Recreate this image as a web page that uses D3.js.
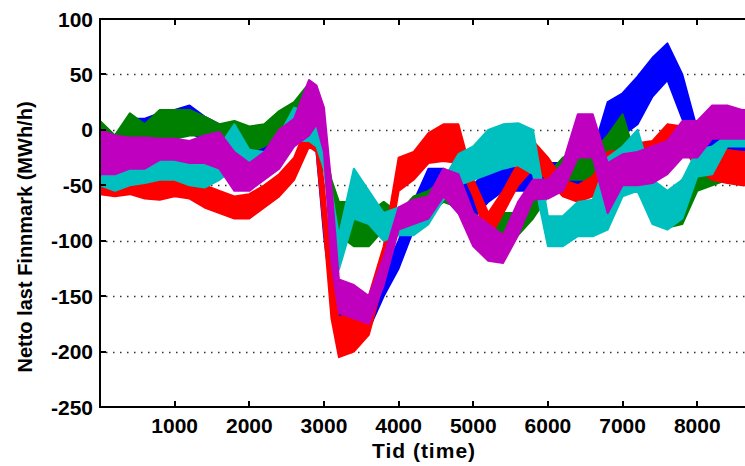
<!DOCTYPE html>
<html>
<head>
<meta charset="utf-8">
<script src="https://cdn.jsdelivr.net/npm/d3@7"></script>
<style>
  html, body { margin: 0; padding: 0; background: #fff; }
  svg { display: block; }
</style>
</head>
<body>
<div id="chart"></div>
<script>
const hours = [0, 200, 400, 600, 800, 1000, 1200, 1400, 1600, 1800, 2000, 2200, 2400, 2600, 2800, 2900,
  3000, 3100, 3200, 3400, 3600, 3800, 4000, 4200, 4400, 4600, 4800, 5000, 5200, 5400, 5600, 5800,
  6000, 6200, 6400, 6600, 6800, 7000, 7200, 7400, 7600, 7800, 8000, 8200, 8400, 8600, 8800];

// low / high envelope of each noisy series (MWh/h)
const blueLow  = [-25, -30, -15, -10, -10, -5, -2, -10, -15, -20, -25, -20, -10, -5, 0, -20,
  -95, -150, -170, -175, -180, -150, -125, -90, -55, -60, -75, -80, -65, -55, -55, -55,
  -50, -55, -50, -45, -10, -5, 5, 30, 45, 10, -20, -30, -30, -25, -25];
const blueHigh = [0, -5, 10, 10, 15, 18, 22, 12, 5, 0, -5, 0, 8, 15, 25, 5,
  -60, -120, -140, -145, -150, -130, -100, -65, -35, -35, -45, -50, -35, -30, -35, -35,
  -30, -30, -25, -20, 25, 33, 48, 65, 78, 50, 0, -5, -10, -5, -5];

const greenLow  = [-10, -28, -5, -10, -10, -8, -5, -5, -15, -15, -20, -15, -5, 0, 10, -5,
  -35, -75, -95, -105, -105, -90, -95, -85, -75, -65, -70, -100, -115, -100, -95, -80,
  -60, -45, -45, -45, -30, -25, -55, -80, -88, -85, -55, -50, -45, -40, -40];
const greenHigh = [8, -5, 15, 5, 18, 18, 18, 12, 5, 8, 3, 5, 17, 25, 42, 20,
  -10, -45, -65, -65, -75, -65, -75, -60, -55, -45, -50, -75, -85, -75, -75, -60,
  -40, -25, -18, -20, -5, 14, -30, -50, -60, -45, -30, -30, -28, -25, -25];

const redLow  = [-58, -60, -58, -62, -63, -60, -62, -70, -75, -80, -80, -70, -60, -45, -15, -20,
  -90, -170, -205, -200, -185, -135, -55, -45, -30, -28, -30, -60, -100, -75, -50, -35,
  -45, -60, -65, -60, -45, -45, -35, -30, -10, -15, -35, -45, -48, -50, -50];
const redHigh = [-42, -50, -48, -48, -42, -40, -45, -50, -55, -60, -58, -50, -40, -25, 8, 5,
  -50, -130, -170, -160, -150, -105, -25, -20, -3, 5, 5, -45, -75, -55, -30, -10,
  -25, -45, -50, -42, -20, -18, -12, -10, 5, 3, -15, -20, -18, -20, -20];

const cyanLow  = [-50, -55, -50, -48, -45, -45, -50, -52, -45, -35, -38, -35, -30, -10, -10, -15,
  -35, -90, -126, -80, -85, -100, -95, -95, -85, -63, -50, -45, -40, -35, -32, -40,
  -105, -105, -96, -96, -90, -60, -55, -85, -90, -80, -42, -40, -15, -15, -15];
const cyanHigh = [-25, -35, -28, -28, -25, -25, -30, -30, -15, 5, -18, -20, -5, 20, 15, 10,
  -10, -55, -95, -35, -55, -75, -70, -70, -60, -45, -22, -15, 0, 5, 6, 0,
  -78, -78, -65, -63, -25, -15, 0, -45, -55, -45, -18, -15, -5, -5, -5];

const magLow  = [-40, -40, -35, -35, -27, -27, -30, -30, -35, -55, -55, -45, -35, -15, -5, 5,
  -20, -120, -165, -170, -175, -140, -90, -85, -80, -60, -75, -105, -118, -120, -95, -63,
  -62, -55, -25, -25, -75, -50, -50, -48, -40, -25, -25, -8, -8, -8, -8];
const magHigh = [0, -5, -7, -7, -8, -8, -10, -5, -2, -20, -30, -20, 0, 10, 45, 40,
  20, -50, -135, -140, -150, -115, -70, -63, -60, -35, -40, -75, -85, -95, -65, -45,
  -45, -30, 14, 14, -30, -22, -20, -15, -10, 8, 8, 22, 22, 18, 18];

const xTicks = [1000, 2000, 3000, 4000, 5000, 6000, 7000, 8000];
const yTicks = [-250, -200, -150, -100, -50, 0, 50, 100];
const gridValues = [-200, -150, -100, -50, 0, 50];

const series = [
  { color: "#0000ff", low: blueLow, high: blueHigh },
  { color: "#008000", low: greenLow, high: greenHigh },
  { color: "#ff0000", low: redLow, high: redHigh },
  { color: "#00bfbf", low: cyanLow, high: cyanHigh },
  { color: "#bf00bf", low: magLow, high: magHigh }
];

const W = 745, H = 466;
const mLeft = 100, mTop = 19, mBottom = 407, mRight = 754; // right edge of the axes falls outside the picture

const x = d3.scaleLinear().domain([0, 8760]).range([mLeft, mRight]);
const y = d3.scaleLinear().domain([-250, 100]).range([mBottom, mTop]);

const svg = d3.select("#chart").append("svg")
  .attr("width", W).attr("height", H)
  .style("font-family", "'Liberation Sans', Arial, sans-serif");

svg.append("defs").append("clipPath").attr("id", "plotclip")
  .append("rect").attr("x", mLeft).attr("y", mTop).attr("width", mRight - mLeft).attr("height", mBottom - mTop);

// dotted grid
svg.append("g").selectAll("line").data(gridValues).enter().append("line")
  .attr("x1", mLeft + 6).attr("x2", W)
  .attr("y1", (d) => Math.round(y(d)) + 0.5).attr("y2", (d) => Math.round(y(d)) + 0.5)
  .attr("stroke", "#333").attr("stroke-width", 1.5)
  .attr("stroke-dasharray", "1.5,5.5");

// bands
const area = d3.area()
  .x((d, i) => x(hours[i]))
  .y0((d) => y(d[0]))
  .y1((d) => y(d[1]));

const plot = svg.append("g").attr("clip-path", "url(#plotclip)");
series.forEach(function (s) {
  const pts = s.low.map((v, i) => [v, s.high[i]]);
  plot.append("path")
    .attr("d", area(pts))
    .attr("fill", s.color)
    .attr("stroke", s.color)
    .attr("stroke-width", 2)
    .attr("stroke-linejoin", "round");
});

// frame
const frame = svg.append("g").attr("stroke", "#000").attr("stroke-width", 2).attr("fill", "none");
frame.append("path").attr("d", `M${W},${mTop}H${mLeft}V${mBottom}H${W}`);

// x ticks (bottom and top, inward)
xTicks.forEach(function (t) {
  const px = Math.round(x(t));
  frame.append("line").attr("x1", px).attr("x2", px).attr("y1", mBottom).attr("y2", mBottom - 6);
  frame.append("line").attr("x1", px).attr("x2", px).attr("y1", mTop).attr("y2", mTop + 6);
});
// y ticks (left, inward)
yTicks.forEach(function (t) {
  const py = Math.round(y(t));
  frame.append("line").attr("x1", mLeft).attr("x2", mLeft + 6).attr("y1", py).attr("y2", py);
});

// tick labels
svg.append("g").selectAll("text").data(xTicks).enter().append("text")
  .attr("x", (d) => x(d)).attr("y", 433)
  .attr("text-anchor", "middle")
  .attr("font-size", 21).attr("font-weight", "bold")
  .text((d) => d);

svg.append("g").selectAll("text").data(yTicks).enter().append("text")
  .attr("x", 93).attr("y", (d) => y(d) + 7.5)
  .attr("text-anchor", "end")
  .attr("font-size", 21).attr("font-weight", "bold")
  .text((d) => d);

// axis labels
svg.append("text")
  .attr("x", 424).attr("y", 458)
  .attr("text-anchor", "middle")
  .attr("font-size", 21).attr("font-weight", "bold")
  .attr("letter-spacing", 1)
  .text("Tid (time)");

svg.append("text")
  .attr("transform", "translate(32,237) rotate(-90)")
  .attr("text-anchor", "middle")
  .attr("font-size", 20).attr("font-weight", "bold")
  .text("Netto last Finnmark (MWh/h)");
</script>
</body>
</html>
